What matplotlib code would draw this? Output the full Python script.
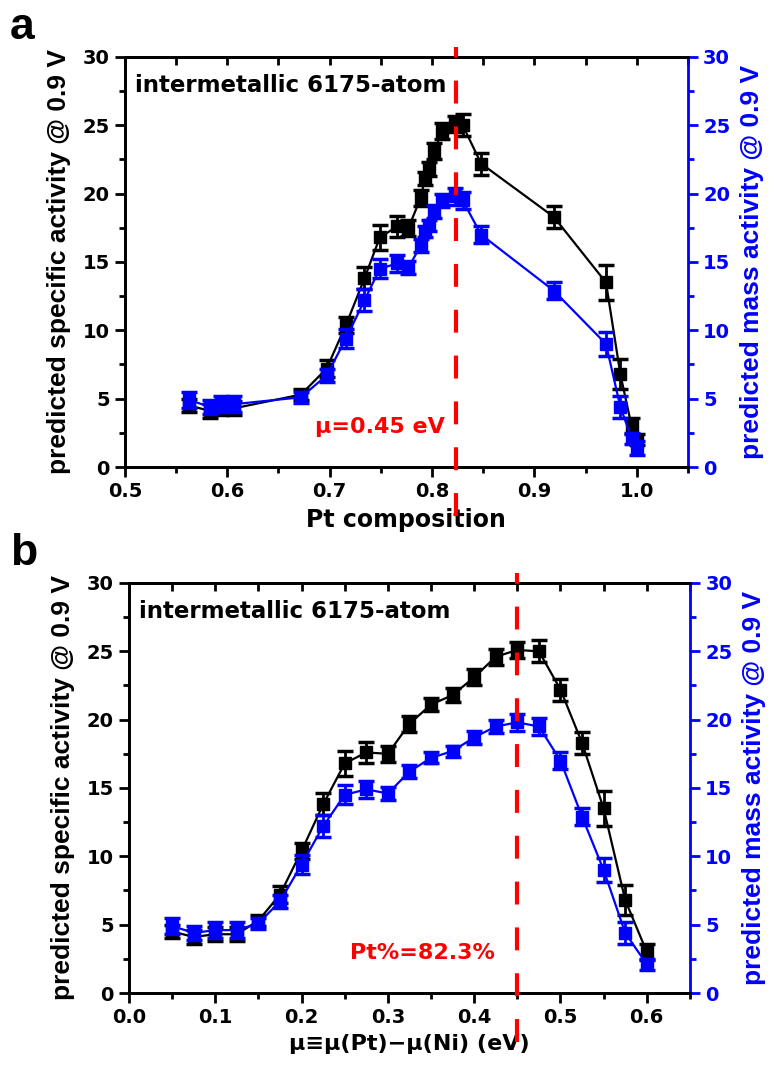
import numpy as np
import matplotlib
matplotlib.use("Agg")
from matplotlib import pyplot as plt
from matplotlib.ticker import MultipleLocator

plt.rcParams['font.family'] = ['DejaVu Sans']
plt.rcParams['font.weight'] = 'bold'
plt.rcParams['axes.labelweight'] = 'bold'

# panel b: chemical potential difference (eV)
mu = [0.05, 0.075, 0.1, 0.125, 0.15, 0.175, 0.2, 0.225, 0.25, 0.275, 0.3, 0.325,
      0.35, 0.375, 0.4, 0.425, 0.45, 0.475, 0.5, 0.525, 0.55, 0.575, 0.6]
spec_b = [4.5, 4.1, 4.3, 4.3, 5.3, 7.2, 10.4, 13.8, 16.8, 17.6, 17.5, 19.7,
          21.1, 21.8, 23.1, 24.6, 25.1, 25.0, 22.2, 18.3, 13.5, 6.8, 3.0]
spec_b_err = [0.5, 0.5, 0.5, 0.5, 0.4, 0.6, 0.6, 0.8, 0.9, 0.8, 0.6, 0.6,
              0.5, 0.5, 0.6, 0.6, 0.6, 0.8, 0.8, 0.8, 1.3, 1.1, 0.6]
mass_b = [4.9, 4.4, 4.6, 4.6, 5.1, 6.7, 9.4, 12.2, 14.5, 14.9, 14.6, 16.2,
          17.2, 17.7, 18.7, 19.5, 19.8, 19.5, 17.0, 12.9, 9.0, 4.4, 2.1]
mass_b_err = [0.6, 0.5, 0.6, 0.6, 0.4, 0.5, 0.7, 0.8, 0.7, 0.6, 0.5, 0.5,
              0.4, 0.4, 0.5, 0.5, 0.6, 0.6, 0.6, 0.6, 0.9, 0.8, 0.4]

# panel a: Pt composition
pt_comp = [0.563, 0.583, 0.594, 0.607, 0.672, 0.697, 0.716, 0.734, 0.749, 0.766, 0.777, 0.789,
           0.793, 0.797, 0.802, 0.810, 0.822, 0.830, 0.848, 0.919, 0.970, 0.984, 0.995, 1.0]
spec_a = spec_b + [2.0]
spec_a_err = spec_b_err + [0.4]
mass_a = mass_b + [1.4]
mass_a_err = mass_b_err + [0.5]

fig = plt.figure(figsize=(7.69, 10.65), dpi=100)


def panel(rect, x, y1, e1, y2, e2, xlim, xmajor, xlabel, xlsize, vline, note, letter):
    ax = fig.add_axes(rect)
    ax2 = ax.twinx()
    ax.errorbar(x, y1, yerr=e1, fmt='s-', color='black', ms=8, lw=1.6,
                elinewidth=2, capsize=5.5, capthick=2.5, zorder=3)
    ax2.errorbar(x, y2, yerr=e2, fmt='s-', color='blue', ms=8, lw=1.6,
                 elinewidth=2, capsize=5.5, capthick=2.5, zorder=3)
    ax2.plot([vline, vline], [-3.6, 30.7], color='red', lw=3, ls='--',
             dashes=(5.5, 5.5), clip_on=False, zorder=5)
    ax.set_xlim(*xlim)
    ax.set_ylim(0, 30)
    ax2.set_ylim(0, 30)
    ax.xaxis.set_major_locator(MultipleLocator(xmajor))
    ax.xaxis.set_minor_locator(MultipleLocator(xmajor / 2))
    for a in (ax, ax2):
        a.yaxis.set_major_locator(MultipleLocator(5))
        a.yaxis.set_minor_locator(MultipleLocator(2.5))
    ax.tick_params(axis='both', which='major', direction='out', length=7, width=2,
                   labelsize=14, pad=4)
    ax.tick_params(axis='both', which='minor', direction='out', length=4, width=2)
    ax.tick_params(axis='y', right=False)
    ax2.tick_params(axis='y', which='major', direction='out', length=7, width=2,
                    labelsize=14, colors='blue', pad=4)
    ax2.tick_params(axis='y', which='minor', direction='out', length=4, width=2,
                    colors='blue')
    top = ax.secondary_xaxis('top')
    top.xaxis.set_major_locator(MultipleLocator(xmajor))
    top.xaxis.set_minor_locator(MultipleLocator(xmajor / 2))
    top.tick_params(which='both', direction='in', length=6, width=2, labeltop=False)
    top.spines['top'].set_linewidth(2)
    for s in ax.spines.values():
        s.set_linewidth(2)
    for s in ax2.spines.values():
        s.set_linewidth(2)
    ax.spines['right'].set_visible(False)
    ax2.spines['right'].set_color('blue')
    for lab in ax.get_xticklabels() + ax.get_yticklabels() + ax2.get_yticklabels():
        lab.set_fontweight('bold')
    ax.set_xlabel(xlabel, fontsize=xlsize, labelpad=5)
    ax.set_ylabel('predicted specific activity @ 0.9 V', fontsize=19, labelpad=8,
                  family='Liberation Sans')
    ax2.set_ylabel('predicted mass activity @ 0.9 V', fontsize=19, color='blue',
                   labelpad=7, family='Liberation Sans')
    ax.text(0.018, 0.93, 'intermetallic 6175-atom', transform=ax.transAxes,
            fontsize=16.5, fontweight='bold', va='center', ha='left')
    ax.text(note[0], 0.098, note[2], transform=ax.transAxes, color='red',
            fontsize=16, fontweight='bold', va='center', ha='center')
    fig.text(0.013, rect[1] + rect[3] + 0.008, letter, fontsize=32, fontweight='bold',
             va='bottom', ha='left', family='Liberation Sans')
    return ax


panel([0.1625, 0.5615, 0.732, 0.385], pt_comp, spec_a, spec_a_err, mass_a, mass_a_err,
      (0.5, 1.05), 0.1, 'Pt composition', 17, 0.823, (0.453, 0.098, 'μ=0.45 eV'), 'a')
panel([0.1677, 0.0676, 0.7295, 0.385], mu, spec_b, spec_b_err, mass_b, mass_b_err,
      (0.0, 0.65), 0.1, 'μ≡μ(Pt)−μ(Ni) (eV)', 16, 0.45, (0.524, 0.098, 'Pt%=82.3%'), 'b')

fig.savefig('out.png', dpi=100)
